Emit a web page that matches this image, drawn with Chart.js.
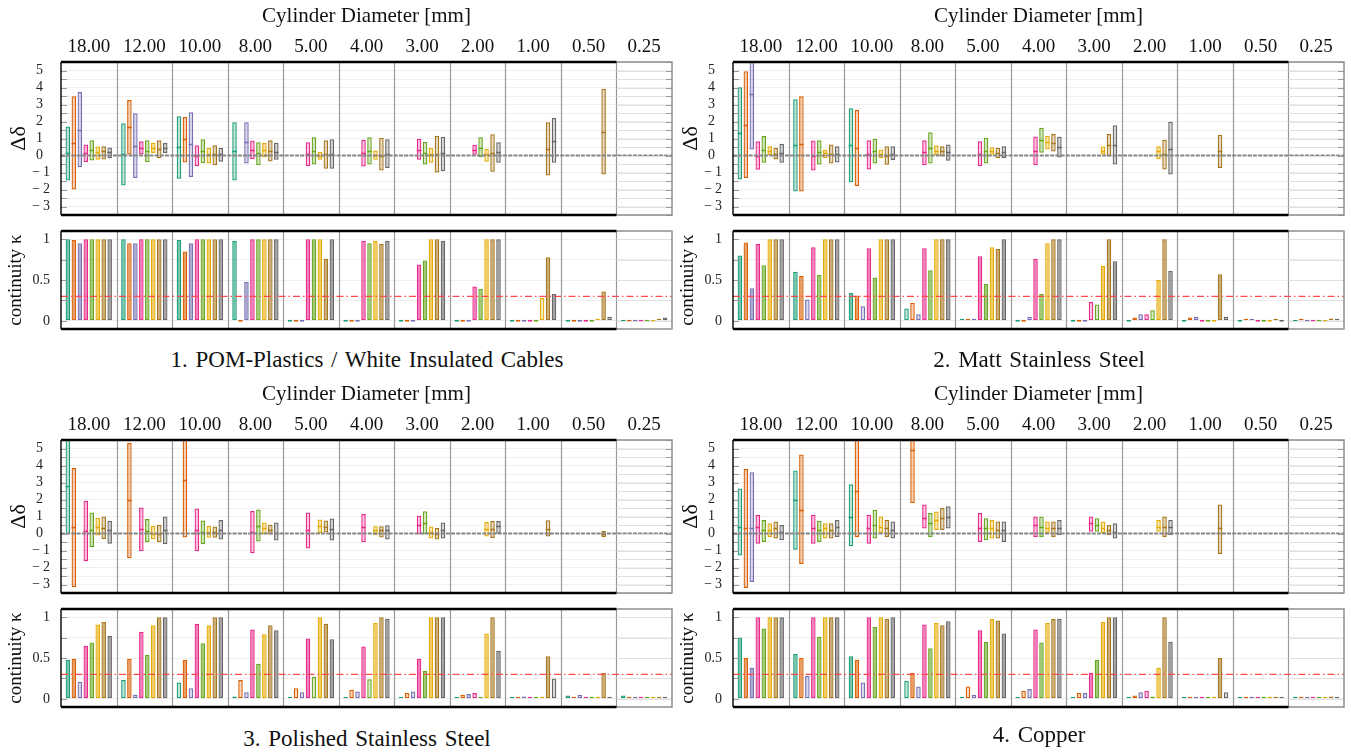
<!DOCTYPE html>
<html><head><meta charset="utf-8">
<script src="https://cdn.jsdelivr.net/npm/chart.js@4.4.1/dist/chart.umd.min.js"></script>
<style>
html,body{margin:0;padding:0;background:#fff}
body{width:1351px;height:753px;overflow:hidden;position:relative;font-family:'Liberation Serif','Times New Roman',serif;color:#111}
canvas{position:absolute}
.cap{position:absolute;width:610px;text-align:center;font-size:23px;line-height:28px;word-spacing:2px}
</style></head><body>
<canvas id="d1" width="680" height="220" style="left:0px;top:0px"></canvas>
<canvas id="k1" width="680" height="115" style="left:0px;top:220px"></canvas>
<canvas id="d2" width="679" height="220" style="left:672px;top:0px"></canvas>
<canvas id="k2" width="679" height="115" style="left:672px;top:220px"></canvas>
<canvas id="d3" width="680" height="220" style="left:0px;top:378px"></canvas>
<canvas id="k3" width="680" height="115" style="left:0px;top:598px"></canvas>
<canvas id="d4" width="679" height="220" style="left:672px;top:378px"></canvas>
<canvas id="k4" width="679" height="115" style="left:672px;top:598px"></canvas>
<div class="cap" style="left:62px;top:346px">1. POM-Plastics / White Insulated Cables</div>
<div class="cap" style="left:734px;top:346px">2. Matt Stainless Steel</div>
<div class="cap" style="left:62px;top:725px">3. Polished Stainless Steel</div>
<div class="cap" style="left:734px;top:721px">4. Copper</div>
<script>
const N = null;
const CATEGORIES = ['18.00','12.00','10.00','8.00','5.00','4.00','3.00','2.00','1.00','0.50','0.25'];
const SERIES = ['Series 1','Series 2','Series 3','Series 4','Series 5','Series 6','Series 7','Series 8'];
const COLORS = ['#1b9e77','#d95f02','#7570b3','#e7298a','#66a61e','#e6ab02','#a6761d','#666666'];
const KAPPA_THRESHOLD = 0.3;
const DELTA_LABELS = [-3,-2,-1,0,1,2,3,4,5];
const KAPPA_LABELS = [0,0.5,1];

// ---------- 1. POM-Plastics ----------
const pomLow = [
  [-1.47,-1.76,-1.37,-1.47,N,N,N,N,N,N,N],
  [-2.0,0.06,-0.41,N,N,N,N,N,N,N,N],
  [-0.69,-1.33,-1.27,-0.47,N,N,N,N,N,N,N],
  [-0.39,0.06,-0.63,-0.22,-0.63,-0.65,-0.25,0.04,N,N,N],
  [-0.29,-0.39,-0.45,-0.57,-0.53,-0.53,-0.53,-0.1,N,N,N],
  [-0.25,0.14,-0.47,-0.1,-0.25,-0.25,-0.43,-0.37,N,N,N],
  [-0.24,-0.16,-0.57,-0.35,-0.78,-0.88,-1.0,-0.96,-1.18,-1.12,N],
  [-0.16,0.14,-0.37,-0.25,-0.78,-0.73,-0.92,-0.43,-0.43,N,N]];
const pomHigh = [
  [1.71,1.9,2.31,1.96,N,N,N,N,N,N,N],
  [3.49,3.27,2.27,N,N,N,N,N,N,N,N],
  [3.73,2.49,2.55,1.96,N,N,N,N,N,N,N],
  [0.65,0.84,0.61,0.88,0.78,0.92,0.98,0.63,N,N,N],
  [0.9,0.9,0.96,0.78,1.08,1.08,0.8,1.08,N,N,N],
  [0.53,0.75,0.45,0.73,0.2,0.29,0.45,0.39,N,N,N],
  [0.55,0.9,0.61,0.9,0.9,1.04,1.16,1.25,1.96,3.92,N],
  [0.47,0.73,0.45,0.75,0.96,0.96,1.1,0.78,2.2,N,N]];
const pomMedian = [
  [0.16,0.08,0.49,0.29,N,N,N,N,N,N,N],
  [0.75,1.67,0.98,N,N,N,N,N,N,N,N],
  [1.51,0.55,0.65,0.78,N,N,N,N,N,N,N],
  [0.16,0.45,0,0.33,0.1,0.14,0.35,0.35,N,N,N],
  [0.35,0.29,0.27,0.14,0.29,0.25,0.14,0.45,N,N,N],
  [0.18,0.45,0.1,0.33,0,0.04,0.08,0.08,N,N,N],
  [0.24,0.39,0.06,0.29,0.1,0,0.08,0.14,0.41,1.41,N],
  [0.2,0.45,0.08,0.2,0.1,0.06,0.14,0.2,0.88,N,N]];
const pomKappa = [
  [1,1,0.99,0.98,0,0,0,0,0,0,0],
  [0.99,0.95,0.85,0,0,0,0,0,0,0,0],
  [0.95,0.95,0.95,0.48,0,0,0,0,0,0,0],
  [1,1,1,1,1,0.98,0.69,0.42,0,0,0],
  [1,1,1,1,1,0.95,0.74,0.39,0,0,0],
  [1,1,1,1,1,0.98,1,1,0.28,0.01,0],
  [1,1,1,1,0.76,0.94,1,1,0.78,0.36,0.02],
  [1,1,1,1,1,0.98,0.98,1,0.33,0.05,0.04]];

// ---------- 2. Matt Stainless Steel ----------
const mattLow = [
  [-1.41,-2.12,-1.57,N,N,N,N,N,N,N,N],
  [-1.33,-2.12,-1.8,N,N,N,N,N,N,N,N],
  [0.35,N,N,N,N,N,N,N,N,N,N],
  [-0.84,-0.88,-0.82,-0.57,-0.63,-0.57,N,N,N,N,N],
  [-0.43,-0.53,-0.47,-0.47,-0.47,0.16,N,N,N,N,N],
  [0,-0.16,-0.16,0,0.04,0.35,0.06,-0.22,N,N,N],
  [-0.24,-0.47,-0.55,-0.06,-0.16,0.24,-0.06,-0.82,-0.73,N,N],
  [-0.43,-0.41,-0.27,-0.31,-0.14,-0.12,-0.53,-1.12,N,N,N]];
const mattHigh = [
  [4.02,3.31,2.78,N,N,N,N,N,N,N,N],
  [4.96,3.49,2.67,N,N,N,N,N,N,N,N],
  [6.2,N,N,N,N,N,N,N,N,N,N],
  [0.84,0.88,0.9,0.9,0.84,1.12,N,N,N,N,N],
  [1.14,0.9,0.98,1.37,1.04,1.63,N,N,N,N,N],
  [0.55,0.35,0.35,0.61,0.49,1.16,0.53,0.55,N,N,N],
  [0.45,0.65,0.55,0.55,0.45,1.27,1.27,0.92,1.22,N,N],
  [0.69,0.55,0.55,0.65,0.55,1.1,1.78,1.98,N,N,N]];
const mattMedian = [
  [1.31,0.61,0.61,N,N,N,N,N,N,N,N],
  [1.8,0.69,0.45,N,N,N,N,N,N,N,N],
  [3.59,N,N,N,N,N,N,N,N,N,N],
  [0,0,0.08,0.2,0.1,0.25,N,N,N,N,N],
  [0.35,0.2,0.25,0.45,0.25,0.9,N,N,N,N,N],
  [0.29,0.14,0.1,0.29,0.29,0.8,0.29,0.25,N,N,N],
  [0.06,0.1,0,0.25,0.14,0.75,0.61,0.06,0.25,N,N],
  [0.12,0.1,0.1,0.2,0.2,0.49,0.61,0.41,N,N,N]];
const mattKappa = [
  [0.8,0.6,0.34,0.15,0.01,0,0,0,0,0,0],
  [0.96,0.55,0.31,0.22,0.01,0,0,0.04,0.04,0.02,0.01],
  [0.4,0.26,0.18,0.08,0.02,0.05,0,0.08,0.05,0.02,0],
  [0.94,0.9,0.89,0.89,0.79,0.76,0.23,0.08,0,0,0],
  [0.68,0.56,0.53,0.62,0.45,0.33,0.2,0.13,0,0,0],
  [1,1,1,1,0.9,0.95,0.67,0.5,0,0,0],
  [1,1,1,1,0.88,1,1,1,0.57,0.01,0.03],
  [1,1,1,1,1,1,0.73,0.61,0.05,0,0.01]];

// ---------- 3. Polished Stainless Steel ----------
const polLow = [
  [-0.04,N,N,N,N,N,N,N,N,N,N],
  [-3.16,-1.45,-0.24,N,N,N,N,N,N,N,N],
  [N,N,N,N,N,N,N,N,N,N,N],
  [-1.63,-1.04,-1.04,-1.16,-0.88,-0.51,-0.04,N,N,N,N],
  [-0.8,-0.51,-0.63,-0.47,N,N,-0.04,N,N,N,N],
  [-0.12,-0.35,-0.25,-0.04,0,-0.1,-0.29,-0.18,N,N,N],
  [-0.33,-0.51,-0.25,-0.06,0.06,-0.24,-0.35,-0.27,-0.18,-0.2,N],
  [-0.61,-0.63,-0.35,-0.41,-0.41,-0.35,-0.29,-0.02,N,N,N]];
const polHigh = [
  [6.5,N,N,N,N,N,N,N,N,N,N],
  [3.86,5.33,6.5,N,N,N,N,N,N,N,N],
  [N,N,N,N,N,N,N,N,N,N,N],
  [1.92,1.53,1.47,1.33,1.24,1.14,1.04,N,N,N,N],
  [1.24,0.86,0.76,1.41,N,N,1.31,N,N,N,N],
  [0.92,0.45,0.45,0.65,0.82,0.43,0.41,0.67,N,N,N],
  [1.0,0.51,0.41,0.51,0.76,0.43,0.33,0.73,0.78,0.14,N],
  [0.75,1.0,0.8,0.65,0.88,0.49,0.65,0.73,N,N,N]];
const polMedian = [
  [2.8,N,N,N,N,N,N,N,N,N,N],
  [0.37,1.96,3.16,N,N,N,N,N,N,N,N],
  [N,N,N,N,N,N,N,N,N,N,N],
  [0.16,0.27,0.22,0.1,0.2,0.37,0.51,N,N,N,N],
  [0.22,0.16,0.1,0.45,N,N,0.63,N,N,N,N],
  [0.39,0,0.1,0.31,0.45,0.18,0.06,0.25,N,N,N],
  [0.35,0,0.1,0.2,0.41,0.18,0,0.25,0.25,0,N],
  [0.2,0.22,0.22,0.04,0.27,0.18,0.22,0.43,N,N,N]];
const polKappa = [
  [0.48,0.23,0.2,0.03,0.01,0.01,0.01,0.01,0.01,0.04,0.04],
  [0.49,0.49,0.48,0.23,0.13,0.11,0.07,0.05,0.01,0.01,0.01],
  [0.21,0.05,0.13,0.08,0.08,0.09,0.09,0.06,0.03,0.05,0.02],
  [0.65,0.82,0.92,0.85,0.74,0.64,0.49,0.07,0.01,0.01,0.01],
  [0.69,0.54,0.68,0.43,0.27,0.24,0.34,0.01,0.01,0.01,0.01],
  [0.91,0.9,0.9,0.79,1,0.93,1,0.8,0.01,0.01,0.01],
  [0.94,1,1,0.9,0.92,1,1,1,0.52,0.32,0.02],
  [0.77,1,1,0.84,0.73,0.98,1,0.59,0.25,0.01,0.02]];

// ---------- 4. Copper ----------
const cuLow = [
  [-1.3,-0.95,-0.75,N,N,N,N,N,N,N,N],
  [-3.2,-1.8,-0.2,1.8,N,N,N,N,N,N,N],
  [-2.85,N,N,N,N,N,N,N,N,N,N],
  [-0.6,-0.6,-0.6,0.3,-0.5,-0.2,0.1,N,N,N,N],
  [-0.5,-0.5,-0.3,-0.2,-0.4,-0.2,0.1,N,N,N,N],
  [-0.2,-0.3,0,0.2,-0.3,0,0,0.1,N,N,N],
  [-0.3,-0.3,-0.2,0.2,-0.3,-0.2,-0.1,-0.2,-1.2,N,N],
  [-0.4,-0.2,-0.3,0.3,-0.5,-0.1,-0.3,-0.1,N,N,N]];
const cuHigh = [
  [2.65,3.7,2.9,N,N,N,N,N,N,N,N],
  [3.8,4.65,6.5,6.5,N,N,N,N,N,N,N],
  [3.6,N,N,N,N,N,N,N,N,N,N],
  [1.1,1.1,1.1,1.7,1.2,1.0,1.0,N,N,N,N],
  [0.8,0.75,1.4,1.2,0.9,1.0,0.9,N,N,N,N],
  [0.6,0.6,1.0,1.3,0.8,0.7,0.7,0.8,N,N,N],
  [0.7,0.6,0.8,1.5,0.7,0.7,0.5,1.0,1.7,N,N],
  [0.5,0.8,0.7,1.6,0.7,0.8,0.6,0.8,N,N,N]];
const cuMedian = [
  [0.4,2.0,1.0,N,N,N,N,N,N,N,N],
  [0.3,1.4,2.5,4.9,N,N,N,N,N,N,N],
  [0.35,N,N,N,N,N,N,N,N,N,N],
  [0.4,0.3,0.3,0.9,0.3,0.5,0.6,N,N,N,N],
  [0.2,0.2,0.5,0.6,0.3,0.4,0.5,N,N,N,N],
  [0.2,0.3,0.4,0.8,0.3,0.3,0.3,0.4,N,N,N],
  [0.3,0.2,0.3,0.9,0.2,0.3,0.2,0.4,0.3,N,N],
  [0.1,0.4,0.2,1.0,0.2,0.3,0.1,0.4,N,N,N]];
const cuKappa = [
  [0.75,0.55,0.52,0.22,0.02,0.01,0.02,0.01,0.02,0.01,0.01],
  [0.5,0.5,0.48,0.32,0.15,0.1,0.07,0.04,0.02,0.01,0.01],
  [0.38,0.28,0.2,0.15,0.05,0.12,0.07,0.08,0.02,0.01,0.01],
  [1,1,1,0.91,0.84,0.85,0.32,0.1,0.02,0.01,0.01],
  [0.86,0.76,0.88,0.62,0.7,0.69,0.48,0.03,0.02,0.01,0.01],
  [1,1,1,0.93,0.98,0.93,0.94,0.38,0.02,0.01,0.02],
  [1,1,0.98,0.9,0.96,0.98,1,1,0.5,0.02,0.03],
  [1,1,1,0.95,0.8,0.98,1,0.7,0.08,0.01,0.02]];

// ---------- drawing ----------
Chart.defaults.font.family = "'Liberation Serif','Times New Roman',serif";
Chart.defaults.color = '#111';

function rgba(hex, a){
  const n = parseInt(hex.slice(1),16);
  return `rgba(${n>>16&255},${n>>8&255},${n&255},${a})`;
}
function fixWidth(w){ return s => { s.width = w; s.paddingTop = 0; s.paddingBottom = 0; s.paddingLeft = 0; s.paddingRight = 0; }; }
function fixHeight(h){ return s => { s.height = h; s.paddingTop = 0; s.paddingBottom = 0; s.paddingLeft = 0; s.paddingRight = 0; }; }

const deco = {
  id: 'deco',
  beforeDatasetsDraw(chart){
    const {ctx, chartArea:a} = chart;
    const x = chart.scales.x;
    ctx.save();
    ctx.strokeStyle = '#9a9a9a'; ctx.lineWidth = 1.2;
    for (let j = 1; j < CATEGORIES.length; j++){
      const px = Math.round((x.getPixelForValue(j-1) + x.getPixelForValue(j)) / 2) + 0.5;
      ctx.beginPath(); ctx.moveTo(px, a.top); ctx.lineTo(px, a.bottom); ctx.stroke();
    }
    ctx.restore();
  },
  afterDatasetsDraw(chart, args, o){
    const {ctx, chartArea:a} = chart;
    const y = chart.scales.y, x = chart.scales.x;
    ctx.save();
    ctx.beginPath(); ctx.rect(a.left, a.top, a.right-a.left, a.bottom-a.top); ctx.clip();
    if (o.medians){
      chart.data.datasets.forEach((ds,i)=>{
        const meta = chart.getDatasetMeta(i);
        meta.data.forEach((bar,j)=>{
          const m = o.medians[i][j];
          if (m == null || ds.data[j] == null) return;
          const py = Math.round(y.getPixelForValue(m)) + 0.5;
          ctx.strokeStyle = COLORS[i]; ctx.lineWidth = 1.5;
          ctx.beginPath(); ctx.moveTo(bar.x - bar.width/2, py); ctx.lineTo(bar.x + bar.width/2, py); ctx.stroke();
        });
      });
    }
    if (o.ref){
      const py = y.getPixelForValue(o.ref.value);
      ctx.strokeStyle = o.ref.color; ctx.lineWidth = o.ref.width; ctx.setLineDash(o.ref.dash);
      ctx.beginPath(); ctx.moveTo(a.left, py); ctx.lineTo(a.right, py); ctx.stroke();
      ctx.setLineDash([]);
    }
    ctx.restore();

    const xb = Math.round((x.getPixelForValue(9) + x.getPixelForValue(10)) / 2) + 0.5;
    ctx.save();
    const tickVals = y.ticks.map(t=>t.value);
    tickVals.forEach(v=>{
      const py = Math.round(y.getPixelForValue(v)) + 0.5;
      ctx.strokeStyle = '#e0e0e0'; ctx.lineWidth = 1;
      ctx.beginPath(); ctx.moveTo(xb, py); ctx.lineTo(a.right, py); ctx.stroke();
      ctx.strokeStyle = '#9a9a9a';
      ctx.beginPath(); ctx.moveTo(a.left, py); ctx.lineTo(a.left + 6, py); ctx.stroke();
      if (o.rightTicks){ ctx.beginPath(); ctx.moveTo(a.right - 6, py); ctx.lineTo(a.right, py); ctx.stroke(); }
    });
    ctx.strokeStyle = '#8f8f8f'; ctx.lineWidth = 1.5;
    ctx.beginPath();
    ctx.moveTo(xb, a.top); ctx.lineTo(a.right, a.top); ctx.lineTo(a.right, a.bottom); ctx.lineTo(xb, a.bottom);
    ctx.stroke();
    ctx.strokeStyle = '#000'; ctx.lineWidth = 2.6;
    ctx.beginPath(); ctx.moveTo(a.left, a.top); ctx.lineTo(xb, a.top); ctx.stroke();
    ctx.beginPath(); ctx.moveTo(a.left, a.bottom); ctx.lineTo(xb, a.bottom); ctx.stroke();
    ctx.lineWidth = 1.4;
    ctx.beginPath(); ctx.moveTo(a.left, a.top); ctx.lineTo(a.left, a.bottom); ctx.stroke();
    ctx.restore();
  }
};

function deltaLabel(v){
  if (!DELTA_LABELS.includes(v)) return '';
  return v < 0 ? '\u2212\u2009' + (-v) : v + '\u2002';
}
function kappaLabel(v){
  return KAPPA_LABELS.includes(v) ? String(v) : '';
}

function buildDelta(id, low, high, med, kap, rightPad){
  new Chart(document.getElementById(id), {
    type: 'bar',
    data: {
      labels: CATEGORIES,
      datasets: SERIES.map((name,i)=>({
        label: name,
        data: low[i].map((v,j)=> v === null ? null : [v, high[i][j]]),
        backgroundColor: rgba(COLORS[i], 0.27),
        borderColor: COLORS[i],
        borderWidth: 1.25,
        borderSkipped: false,
        barPercentage: 0.76,
        categoryPercentage: 0.86
      }))
    },
    options: {
      responsive: false, animation: false, devicePixelRatio: 1,
      layout: {padding: {left: 0, right: rightPad, top: 0, bottom: 5}},
      plugins: {legend: {display: false}, tooltip: {enabled: false},
        deco: {medians: med, rightTicks: true, ref: {value: 0, color: '#858585', width: 2.2, dash: [4,1.2]}}},
      scales: {
        x: {position: 'top', offset: true,
            grid: {display: false, drawTicks: false},
            border: {display: false},
            ticks: {font: {size: 19}, color: '#111', padding: 4, maxRotation: 0, autoSkip: false},
            title: {display: true, text: 'Cylinder Diameter [mm]', font: {size: 21}, color: '#111', padding: {top: 4, bottom: 0}},
            afterFit: fixHeight(62)},
        y: {min: -3.5, max: 5.5,
            ticks: {stepSize: 0.5, autoSkip: false, callback: deltaLabel, font: {size: 14}, color: '#222', padding: 11},
            grid: {color: '#efefef', lineWidth: 1, drawTicks: false},
            border: {display: false},
            title: {display: true, text: 'Δδ', font: {size: 22}, color: '#111', padding: {top: 6, bottom: 0}},
            afterFit: fixWidth(61)}
      }
    },
    plugins: [deco]
  });
}

function buildKappa(id, kap, rightPad){
  new Chart(document.getElementById(id), {
    type: 'bar',
    data: {
      labels: CATEGORIES,
      datasets: SERIES.map((name,i)=>({
        label: name,
        data: kap[i],
        backgroundColor: kap[i].map(k => rgba(COLORS[i], k >= KAPPA_THRESHOLD ? 0.6 : 0.25)),
        borderColor: COLORS[i],
        borderWidth: 1.25,
        borderSkipped: false,
        minBarLength: 2,
        barPercentage: 0.76,
        categoryPercentage: 0.86
      }))
    },
    options: {
      responsive: false, animation: false, devicePixelRatio: 1,
      layout: {padding: {left: 0, right: rightPad, top: 11, bottom: 6}},
      plugins: {legend: {display: false}, tooltip: {enabled: false},
        deco: {ref: {value: KAPPA_THRESHOLD, color: '#ff4a4a', width: 1.3, dash: [7,3,1.5,3]}}},
      scales: {
        x: {offset: true,
            grid: {display: false, drawTicks: false},
            border: {display: false},
            ticks: {display: false},
            afterFit: fixHeight(0)},
        y: {min: -0.1, max: 1.1,
            ticks: {stepSize: 0.25, includeBounds: false, autoSkip: false, callback: kappaLabel, font: {size: 14}, color: '#222', padding: 11},
            grid: {color: '#efefef', lineWidth: 1, drawTicks: false},
            border: {display: false},
            title: {display: true, text: 'continuity κ', font: {size: 19}, color: '#111', padding: {top: 5, bottom: 0}},
            afterFit: fixWidth(61)}
      }
    },
    plugins: [deco]
  });
}

buildDelta('d1', pomLow, pomHigh, pomMedian, pomKappa, 8);
buildKappa('k1', pomKappa, 8);
buildDelta('d2', mattLow, mattHigh, mattMedian, mattKappa, 7);
buildKappa('k2', mattKappa, 7);
buildDelta('d3', polLow, polHigh, polMedian, polKappa, 8);
buildKappa('k3', polKappa, 8);
buildDelta('d4', cuLow, cuHigh, cuMedian, cuKappa, 7);
buildKappa('k4', cuKappa, 7);
</script>
</body></html>
